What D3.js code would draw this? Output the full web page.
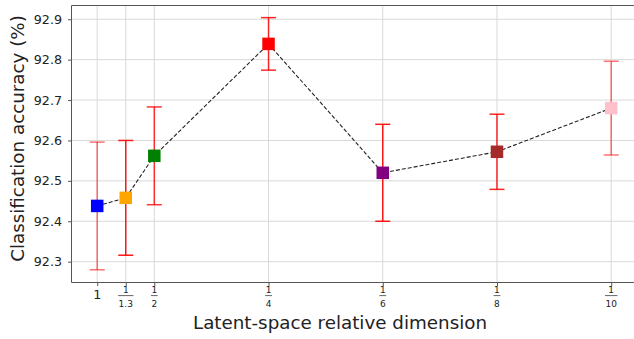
<!DOCTYPE html>
<html><head><meta charset="utf-8">
<script src="https://cdn.jsdelivr.net/npm/d3@7"></script>
<style>
html,body{margin:0;padding:0;background:#fff;}
svg{display:block;font-family:"DejaVu Sans",sans-serif;}
</style></head>
<body><svg id="c" width="634" height="339"></svg>
<script>
// ---- data ----
const xPositions = [1, 1.5, 2, 4, 6, 8, 10];
const xTickLabels = ["1", "1/1.3", "1/2", "1/4", "1/6", "1/8", "1/10"];
const accuracy = [92.438, 92.458, 92.562, 92.839, 92.520, 92.572, 92.680];
const errorHalf = [0.158, 0.142, 0.121, 0.065, 0.120, 0.093, 0.116];
const markerColors = ["#0000ff", "#ffa500", "#008000", "#ff0000", "#800080", "#a52a2a", "#ffc0cb"];
const errAlpha = [0.55, 0.9, 0.8, 0.85, 0.9, 0.85, 0.55];
const yTicks = [92.3, 92.4, 92.5, 92.6, 92.7, 92.8, 92.9];

// ---- layout ----
const svg = d3.select("#c");
const L = 71.5, T = 5.5, B = 282.5, R = 636.9;
const x = d3.scaleLinear().domain([0.55, 10.45]).range([L, R]);
const y = d3.scaleLinear().domain([92.2485, 92.934]).range([B, T]);
const spine = "#555";

// grid
const g = svg.append("g");
g.selectAll(".gy").data(yTicks).enter().append("line")
  .attr("x1", L).attr("x2", 634).attr("y1", d => y(d)).attr("y2", d => y(d))
  .attr("stroke", "#d9d9d9").attr("stroke-width", 1);
g.selectAll(".gx").data(xPositions).enter().append("line")
  .attr("x1", d => x(d)).attr("x2", d => x(d)).attr("y1", T).attr("y2", B)
  .attr("stroke", "#d9d9d9").attr("stroke-width", 1);

// axes
const yAxis = d3.axisLeft(y).tickValues(yTicks).tickSize(3.5).tickPadding(6)
  .tickFormat(d3.format(".1f"));
const ya = svg.append("g").attr("transform", `translate(${L},0)`).call(yAxis);
ya.select(".domain").remove();
ya.selectAll(".tick line").attr("stroke", spine);
ya.selectAll(".tick text").attr("font-size", "12.7px").attr("fill", "#222")
  .attr("font-family", "DejaVu Sans");

const xAxis = d3.axisBottom(x).tickValues(xPositions).tickSize(3.5).tickFormat("");
const xa = svg.append("g").attr("transform", `translate(0,${B})`).call(xAxis);
xa.select(".domain").remove();
xa.selectAll(".tick line").attr("stroke", spine);

// x tick labels (fractions)
xPositions.forEach((p, i) => {
  const lab = xTickLabels[i];
  const cx = x(p);
  if (lab.indexOf("/") < 0) {
    svg.append("text").attr("x", cx).attr("y", 298.5).attr("text-anchor", "middle")
      .attr("font-size", "12.7px").attr("fill", "#222").text(lab);
  } else {
    const [num, den] = lab.split("/");
    svg.append("text").attr("x", cx).attr("y", 293.3).attr("text-anchor", "middle")
      .attr("font-size", "9px").attr("fill", "#222").text(num);
    const dt = svg.append("text").attr("x", cx).attr("y", 307.3).attr("text-anchor", "middle")
      .attr("font-size", "9px").attr("fill", "#222").text(den);
    const w = Math.max(dt.node().getComputedTextLength(), 5) + 1;
    svg.append("line").attr("x1", cx - w / 2).attr("x2", cx + w / 2)
      .attr("y1", 295.6).attr("y2", 295.6).attr("stroke", "#222").attr("stroke-width", 0.7);
  }
});

// spines
svg.append("line").attr("x1", L).attr("x2", L).attr("y1", T).attr("y2", B)
  .attr("stroke", spine).attr("stroke-width", 1);
svg.append("line").attr("x1", L).attr("x2", 634).attr("y1", B).attr("y2", B)
  .attr("stroke", spine).attr("stroke-width", 1);
svg.append("line").attr("x1", L).attr("x2", 634).attr("y1", T).attr("y2", T)
  .attr("stroke", spine).attr("stroke-width", 1);

// axis labels
svg.append("text").attr("x", 340).attr("y", 329.3).attr("text-anchor", "middle")
  .attr("font-size", "18.3px").attr("fill", "#222").text("Latent-space relative dimension");
svg.append("text").attr("transform", "translate(24,138.5) rotate(-90)")
  .attr("text-anchor", "middle").attr("font-size", "18.3px").attr("fill", "#222")
  .text("Classification accuracy (%)");

// data
const pts = xPositions.map((p, i) => ({x: p, y: accuracy[i], e: errorHalf[i], c: markerColors[i], a: errAlpha[i]}));
const eb = svg.append("g");
pts.forEach(d => {
  const gg = eb.append("g").attr("stroke", "#ff0000").attr("stroke-opacity", d.a).attr("stroke-width", 1.5);
  gg.append("line").attr("x1", x(d.x)).attr("x2", x(d.x)).attr("y1", y(d.y - d.e)).attr("y2", y(d.y + d.e));
  [d.y - d.e, d.y + d.e].forEach(v => {
    gg.append("line").attr("x1", x(d.x) - 7.5).attr("x2", x(d.x) + 7.5).attr("y1", y(v)).attr("y2", y(v));
  });
});

svg.append("path").datum(pts)
  .attr("d", d3.line().x(d => x(d.x)).y(d => y(d.y)))
  .attr("fill", "none").attr("stroke", "#222").attr("stroke-width", 1.1)
  .attr("stroke-dasharray", "4,2");

const ms = 12.5;
svg.append("g").selectAll("rect").data(pts).enter().append("rect")
  .attr("x", d => x(d.x) - ms / 2).attr("y", d => y(d.y) - ms / 2)
  .attr("width", ms).attr("height", ms).attr("fill", d => d.c);
</script></body></html>
